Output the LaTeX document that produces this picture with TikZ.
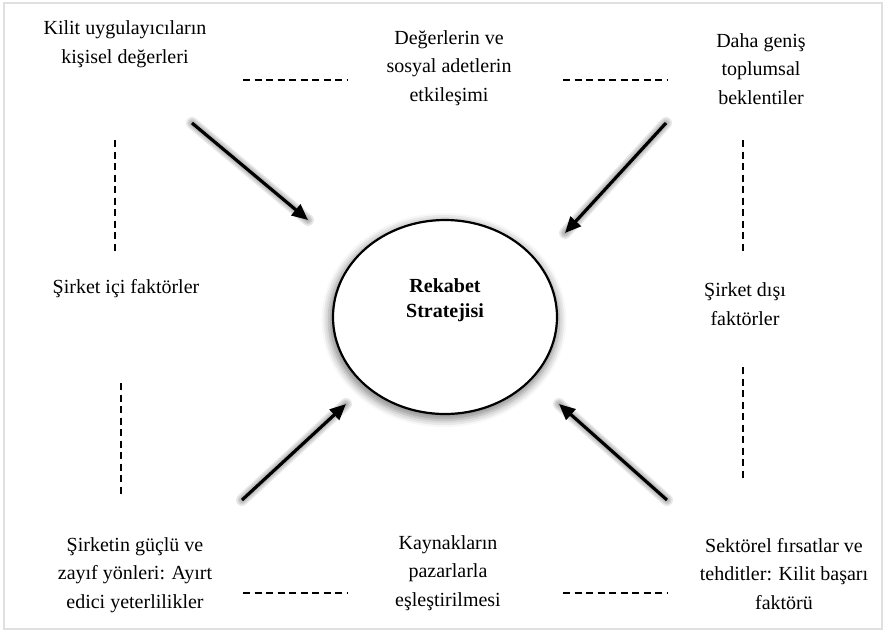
\documentclass[tikz,border=0pt]{standalone}
\usepackage{fontspec}
\setmainfont{Liberation Serif}
\usetikzlibrary{arrows.meta,shapes.geometric,shadows.blur}
\tikzset{
  lbl/.style={align=center, font=\fontsize{20}{28.5}\selectfont, text=black, inner sep=0pt},
  dashline/.style={draw=black, line width=2.1pt, dash pattern=on 7pt off 4.5pt},
  bigarrow/.style={draw=black, line width=3.2pt, -{Triangle[length=16pt,width=14pt]}},
  arrshadow/.style={draw=black, line width=#1, opacity=0.09, line cap=round, shift={(3,5)}},
  core/.style={ellipse, draw=black, line width=2.2pt, fill=white,
    minimum width=224pt, minimum height=194pt,
    blur shadow={shadow xshift=-1pt, shadow yshift=-3pt, shadow blur radius=7pt, shadow opacity=45, shadow scale=1.03}}
}
\begin{document}
\begin{tikzpicture}[x=1pt,y=-1pt]
\useasboundingbox (0,0) rectangle (885,633);
\draw[black!12, line width=1.5pt] (4,3) rectangle (882,629);

% central ellipse
\node[core] (rs) at (445,317) {};
\node[font=\fontsize{20}{25}\selectfont\bfseries, align=center, inner sep=0pt] (rst) at (445,300) {Rekabet\\Stratejisi};

% labels
\node[lbl] (tl) at (125,44) {Kilit uygulayıcıların\\kişisel değerleri};
\node[lbl] (tc) at (449,68) {Değerlerin ve\\sosyal adetlerin\\etkileşimi};
\node[lbl] (tr) at (761,69) {Daha geniş\\toplumsal\\beklentiler};
\node[lbl] (ml) at (126,289) {Şirket içi faktörler};
\node[lbl] (mr) at (745,304) {Şirket dışı\\faktörler};
\node[lbl] (bl) at (135,575) {Şirketin güçlü ve\\zayıf yönleri: Ayırt\\edici yeterlilikler};
\node[lbl] (bc) at (448,573) {Kaynakların\\pazarlarla\\eşleştirilmesi};
\node[lbl] (br) at (784,574) {Sektörel fırsatlar ve\\tehditler: Kilit başarı\\faktörü};

% dashed connectors
\coordinate (h1a) at (243,80);  \coordinate (h1b) at (347,80);
\coordinate (h2a) at (563,80);  \coordinate (h2b) at (667,80);
\coordinate (h3a) at (243,593); \coordinate (h3b) at (347,593);
\coordinate (h4a) at (563,593); \coordinate (h4b) at (667,593);
\coordinate (v1a) at (115,140); \coordinate (v1b) at (115,254);
\coordinate (v2a) at (121,383); \coordinate (v2b) at (121,497);
\coordinate (v3a) at (743,140); \coordinate (v3b) at (743,254);
\coordinate (v4a) at (743,367); \coordinate (v4b) at (743,481);
\foreach \p in {h1,h2,h3,h4,v1,v2,v3,v4}
  \draw[dashline] (\p a) -- (\p b);

% arrows
\coordinate (a1s) at (192,123); \coordinate (a1e) at (308,220);
\coordinate (a2s) at (666,123); \coordinate (a2e) at (565,233);
\coordinate (a3s) at (242,500); \coordinate (a3e) at (346,404);
\coordinate (a4s) at (667,500); \coordinate (a4e) at (559,404);
\foreach \a in {a1,a2,a3,a4}{
  \foreach \w in {12pt,9pt,6pt,3pt}
    \draw[arrshadow=\w] (\a s) -- (\a e);
  \draw[bigarrow] (\a s) -- (\a e);
}
\end{tikzpicture}
\end{document}
